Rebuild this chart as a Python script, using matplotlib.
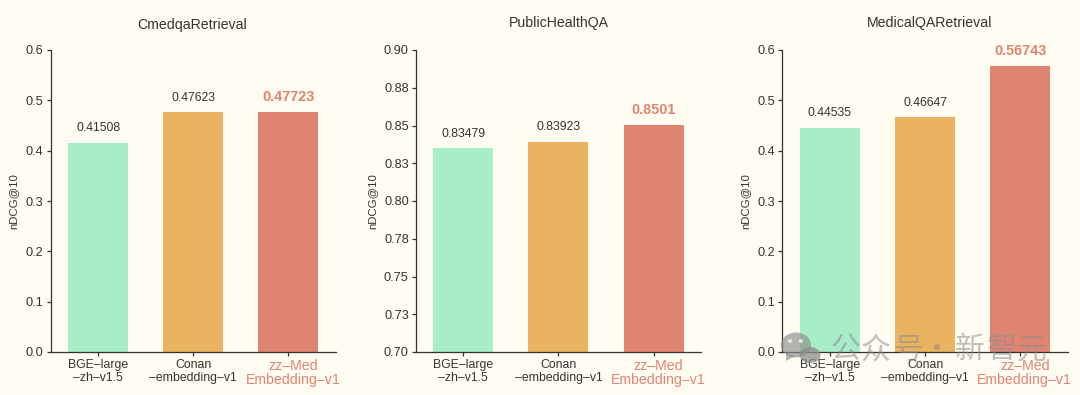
import matplotlib
matplotlib.use("Agg")
import matplotlib.pyplot as plt
from matplotlib.patches import Ellipse, Polygon
from matplotlib.transforms import ScaledTranslation

W, H = 1080, 395
BG = "#fffcf2"
DARK = "#333333"
RED = "#e08472"

models = ["BGE\u2013large\n\u2013zh\u2013v1.5", "Conan\n\u2013embedding\u2013v1", "zz\u2013Med\nEmbedding\u2013v1"]
bar_colors = ["#a7edc7", "#e9b35f", "#e08472"]

titles = ["CmedqaRetrieval", "PublicHealthQA", "MedicalQARetrieval"]
cmedqa = [0.41508, 0.47623, 0.47723]
public_health = [0.83479, 0.83923, 0.8501]
medical = [0.44535, 0.46647, 0.56743]
value_labels = [
    ["0.41508", "0.47623", "0.47723"],
    ["0.83479", "0.83923", "0.8501"],
    ["0.44535", "0.46647", "0.56743"],
]
y_ticks = [
    [0.0, 0.1, 0.2, 0.3, 0.4, 0.5, 0.6],
    [0.70, 0.725, 0.75, 0.775, 0.80, 0.825, 0.85, 0.875, 0.90],
    [0.0, 0.1, 0.2, 0.3, 0.4, 0.5, 0.6],
]
y_tick_labels = [
    ["0.0", "0.1", "0.2", "0.3", "0.4", "0.5", "0.6"],
    ["0.70", "0.73", "0.75", "0.78", "0.80", "0.83", "0.85", "0.88", "0.90"],
    ["0.0", "0.1", "0.2", "0.3", "0.4", "0.5", "0.6"],
]
watermark_chars = ["公", "众", "号", "·", "新", "智", "元"]

plt.rcParams["font.family"] = ["Liberation Sans", "DejaVu Sans"]
fig = plt.figure(figsize=(W / 100, H / 100), dpi=100, facecolor=BG)

lefts = [50.5, 415.7, 782.3]
title_x = [192, 559, 930]
title_y = [25, 23, 23]
ylabel_x = [13, 372, 745]
ax_w, top, bottom = 285.5, 50.0, 352.0

for i, vals in enumerate([cmedqa, public_health, medical]):
    ax = fig.add_axes([lefts[i] / W, 1 - bottom / H, ax_w / W, (bottom - top) / H], facecolor="none")
    ax.bar(range(3), vals, width=0.63, color=bar_colors)
    ax.set_xlim(-0.5, 2.5)
    ax.set_ylim(y_ticks[i][0], y_ticks[i][-1])
    ax.set_yticks(y_ticks[i], y_tick_labels[i])
    ax.set_xticks(range(3), models)
    ax.tick_params(axis="y", length=3, width=0.9, color=DARK, labelcolor=DARK, labelsize=9.2, pad=2)
    ax.tick_params(axis="x", length=3, width=0.9, color=DARK, labelcolor=DARK, labelsize=8.8, pad=2.2)
    for lab in ax.get_xticklabels():
        lab.set_linespacing(1.05)
    red = ax.get_xticklabels()[2]
    red.set_color(RED)
    red.set_fontsize(10.2)
    red.set_linespacing(0.95)
    # highlighted label sits a little right of its tick in the original
    red.set_transform(red.get_transform() + ScaledTranslation(4.5 / 100, 0, fig.dpi_scale_trans))
    for s in ["top", "right"]:
        ax.spines[s].set_visible(False)
    for s in ["left", "bottom"]:
        ax.spines[s].set_color(DARK)
        ax.spines[s].set_linewidth(0.9)
    for j, v in enumerate(vals):
        if j == 2:
            ax.annotate(value_labels[i][j], (j, v), xytext=(0, 11), textcoords="offset points",
                        ha="center", va="center", color=RED, fontsize=10.4, fontweight="bold")
        else:
            ax.annotate(value_labels[i][j], (j, v), xytext=(0, 10.5), textcoords="offset points",
                        ha="center", va="center", color=DARK, fontsize=8.8)
    fig.text(title_x[i] / W, 1 - title_y[i] / H, titles[i], ha="center", va="center", fontsize=10.2, color=DARK)
    fig.text(ylabel_x[i] / W, 1 - 201 / H, "nDCG@10", rotation=90, ha="center", va="center", fontsize=8.2, color=DARK)

# watermark on top of the third panel
wm = fig.add_axes([0, 0, 1, 1], facecolor="none")
wm.set_xlim(0, W)
wm.set_ylim(H, 0)
wm.axis("off")
GREY = "#8c8c8c"
wm.add_patch(Ellipse((796, 345), 30, 25, color=GREY, alpha=0.65, lw=0))
wm.add_patch(Polygon([[786, 353], [786, 361], [795, 356]], color=GREY, alpha=0.65, lw=0))
wm.add_patch(Ellipse((810, 355), 21, 16, color=GREY, alpha=0.75, lw=0))
wm.add_patch(Ellipse((790, 341), 4, 4, color=BG, alpha=0.7, lw=0))
wm.add_patch(Ellipse((801, 341), 4, 4, color=BG, alpha=0.7, lw=0))
char_x = [845, 876, 908, 936, 970, 1002, 1032]
for ch, x in zip(watermark_chars, char_x):
    wm.text(x, 350, ch, family=["Noto Sans CJK SC", "DejaVu Sans"], fontsize=21.5, fontweight="light",
            color=GREY, alpha=0.55, va="center", ha="center")

fig.savefig("out.png", dpi=100, facecolor=BG)
